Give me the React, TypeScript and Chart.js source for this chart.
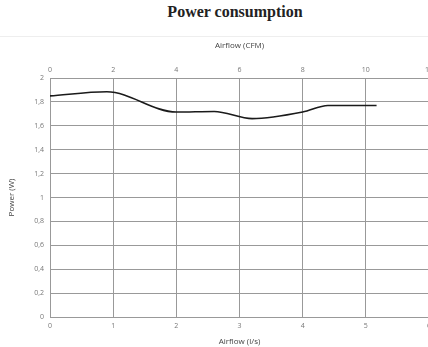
import React, { useEffect, useRef } from "react";
import { Chart, registerables } from "chart.js";

Chart.register(...registerables);

const airflowLs = [0, 0.9, 2.0, 2.6, 3.2, 4.0, 4.4, 5.17];
const powerW = [1.85, 1.885, 1.715, 1.72, 1.66, 1.715, 1.77, 1.77];
const chartTitle = "Power consumption";
const topAxisTitle = "Airflow (CFM)";
const bottomAxisTitle = "Airflow (l/s)";
const yAxisTitle = "Power (W)";

const tickFont = { family: "'Open Sans', 'Liberation Sans', sans-serif", size: 7 };
const titleFont = { family: "'Open Sans', 'Liberation Sans', sans-serif", size: 8 };

export default function App() {
  const ref = useRef<HTMLCanvasElement | null>(null);
  useEffect(() => {
    if (!ref.current) return;
    const chart = new Chart(ref.current, {
      type: "line",
      data: {
        datasets: [
          {
            data: airflowLs.map((x, i) => ({ x, y: powerW[i] })),
            borderColor: "#1a1a1a",
            borderWidth: 1.6,
            pointRadius: 0,
            cubicInterpolationMode: "monotone",
            fill: false,
            xAxisID: "x",
            yAxisID: "y",
          },
        ],
      },
      options: {
        animation: false,
        responsive: false,
        maintainAspectRatio: false,
        layout: { padding: { left: 0, right: 0, top: 0, bottom: 0 } },
        plugins: { legend: { display: false }, tooltip: { enabled: false } },
        scales: {
          x: {
            type: "linear",
            position: "bottom",
            min: 0,
            max: 6,
            ticks: { stepSize: 1, color: "#777", font: tickFont, padding: 5, maxRotation: 0 },
            grid: { color: "#999", lineWidth: 1, drawTicks: false },
            border: { color: "#999" },
            title: { display: true, text: bottomAxisTitle, color: "#444", font: titleFont, padding: { top: 0, bottom: 0 } },
            afterFit: (s: any) => { s.height = 30; },
          },
          x2: {
            type: "linear",
            position: "top",
            min: 0,
            max: 12,
            ticks: { stepSize: 2, color: "#777", font: tickFont, padding: 4, maxRotation: 0 },
            grid: { display: false, drawTicks: false },
            border: { color: "#999" },
            title: { display: true, text: topAxisTitle, color: "#444", font: titleFont, padding: { top: 4, bottom: 8 } },
            afterFit: (s: any) => { s.height = 41; },
          },
          y: {
            type: "linear",
            min: 0,
            max: 2,
            ticks: {
              stepSize: 0.2,
              color: "#777",
              font: tickFont,
              padding: 6,
              callback: (v: any) => String(Math.round(Number(v) * 10) / 10).replace(".", ","),
            },
            grid: { color: "#999", lineWidth: 1, drawTicks: false },
            border: { color: "#999" },
            title: { display: true, text: yAxisTitle, color: "#444", font: titleFont, padding: { top: 7, bottom: 0 } },
            afterFit: (s: any) => { s.width = 50; },
          },
        },
      },
    });
    return () => chart.destroy();
  }, []);

  return (
    <div style={{ position: "absolute", left: 0, top: 0, width: 428, height: 347, overflow: "hidden", background: "#fff" }}>
      <div
        style={{
          height: 37,
          borderBottom: "1px solid #eee",
          boxSizing: "border-box",
          textAlign: "center",
          paddingLeft: 42,
          fontFamily: "'Liberation Serif', serif",
          fontWeight: "bold",
          fontSize: 16,
          lineHeight: "24px",
          color: "#222",
        }}
      >
        {chartTitle}
      </div>
      <canvas ref={ref} width={437} height={310} style={{ display: "block" }} />
    </div>
  );
}
